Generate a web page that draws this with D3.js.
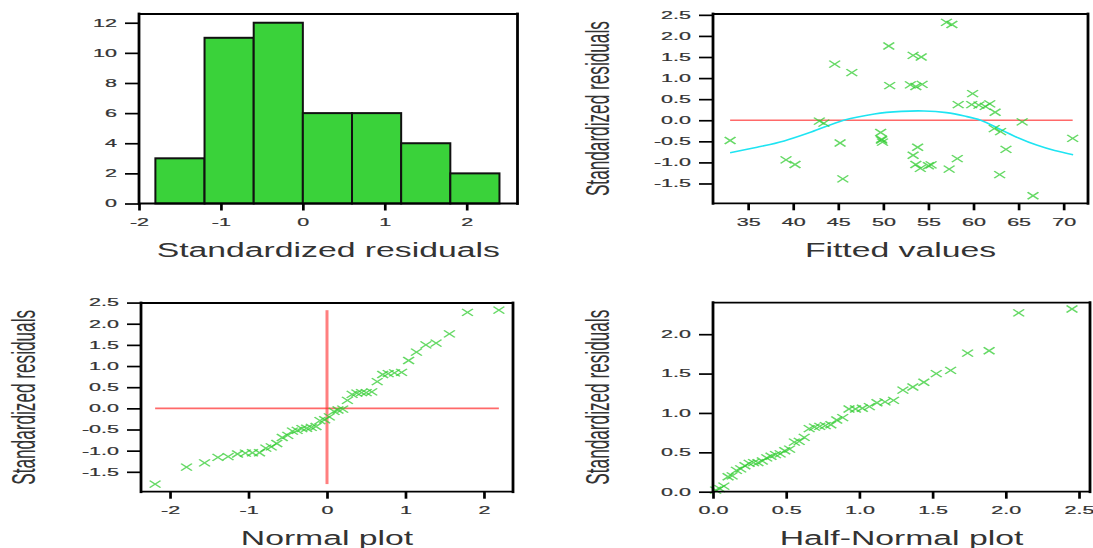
<!DOCTYPE html>
<html>
<head>
<meta charset="utf-8">
<script src="https://cdn.jsdelivr.net/npm/d3@7"></script>
<style>
body { margin: 0; background: #fff; }
svg { display: block; font-family: "Liberation Sans", Arial, sans-serif; }
</style>
</head>
<body>
<svg id="chart" width="1093" height="548"></svg>
<script>
// residuals against fitted values
const fitted = [33.0, 39.2, 40.2, 42.9, 43.4, 44.6, 45.2, 45.5, 46.5, 49.7, 49.8, 49.9, 49.8, 50.6, 50.7,
    53.0, 53.3, 53.3, 53.6, 53.6, 53.8, 54.1, 54.2, 54.3, 55.0, 55.3, 57.0, 57.3, 57.6, 58.2, 58.3,
    59.9, 59.8, 60.6, 61.3, 61.8, 62.3, 62.4, 62.9, 63.0, 63.6, 65.4, 66.6, 71.0];
const residuals = [-0.48, -0.94, -1.05, -0.02, -0.07, 1.33, -0.54, -1.39, 1.13, -0.29, -0.45, -0.52, -0.47, 1.76, 0.82,
    0.84, 1.54, -0.83, 0.80, -1.05, -0.64, -1.14, 1.50, 0.85, -1.08, -1.06, 2.32, -1.16, 2.27, -0.91, 0.37,
    0.63, 0.37, 0.36, 0.33, 0.39, -0.20, 0.19, -1.29, -0.27, -0.69, -0.04, -1.79, -0.43];

// histogram
const binEdges = [-1.8, -1.2, -0.6, 0, 0.6, 1.2, 1.8, 2.4];
const binCounts = [3, 11, 12, 6, 6, 4, 2];

// smoother in the fitted plot
const smoothX = [33, 36, 39, 42, 45.6, 49, 52, 54.5, 57, 59, 60.8, 63, 65, 67, 69, 71.05];
const smoothY = [-0.77, -0.64, -0.49, -0.28, 0.0, 0.15, 0.21, 0.22, 0.18, 0.10, 0.0, -0.22, -0.42, -0.59, -0.72, -0.82];

// plotting positions
const normalQuantiles = [-2.19, -1.79, -1.56, -1.39, -1.26, -1.14, -1.04, -0.95, -0.86, -0.78, -0.71, -0.64, -0.57, -0.50,
    -0.44, -0.38, -0.32, -0.26, -0.20, -0.14, -0.09, -0.03, 0.03, 0.09, 0.14, 0.20, 0.26, 0.32, 0.38, 0.44,
    0.50, 0.57, 0.64, 0.71, 0.78, 0.86, 0.95, 1.04, 1.14, 1.26, 1.39, 1.56, 1.79, 2.19];
const halfNormalQuantiles = [0.018, 0.046, 0.074, 0.103, 0.131, 0.160, 0.189, 0.218, 0.247, 0.277, 0.307, 0.337,
    0.367, 0.396, 0.427, 0.459, 0.490, 0.523, 0.556, 0.589, 0.623, 0.657, 0.693, 0.729, 0.767, 0.805,
    0.845, 0.886, 0.929, 0.973, 1.020, 1.068, 1.120, 1.175, 1.233, 1.297, 1.365, 1.440, 1.525, 1.623,
    1.739, 1.886, 2.088, 2.452];

// tick labels
const histXTicks = [-2, -1, 0, 1, 2];
const histYTicks = [0, 2, 4, 6, 8, 10, 12];
const residTicks = [-1.5, -1.0, -0.5, 0.0, 0.5, 1.0, 1.5, 2.0, 2.5];
const fittedTicks = [35, 40, 45, 50, 55, 60, 65, 70];
const normalTicks = [-2, -1, 0, 1, 2];
const halfXTicks = [0, 0.5, 1.0, 1.5, 2.0, 2.5];
const halfYTicks = [0, 0.5, 1.0, 1.5, 2.0];

const svg = d3.select("#chart");
const INK = "#333";
const TICK_K = 2.05, TITLE_K = 1.73, YT_K = 1.95;
const fmtInt = d => String(d).replace("\u2212", "-");
const fmt1 = d => d3.format(".1f")(d).replace("\u2212", "-");

const sortedRes = d3.sort(residuals);
const sortedAbs = d3.sort(residuals.map(Math.abs));

function makePanel(p) {
    const x = d3.scaleLinear().domain(p.xd).range([p.left, p.right]);
    const y = d3.scaleLinear().domain(p.yd).range([p.bottom, p.top]);
    const g = svg.append("g");
    return { x, y, g, p };
}

function finishPanel(P) {
    const { x, y, g, p } = P;
    // frame: vertical edges look heavier in the reference
    const fr = g.append("g").attr("stroke", "#000").attr("stroke-linecap", "square");
    fr.append("line").attr("x1", p.left).attr("x2", p.right).attr("y1", p.top).attr("y2", p.top).attr("stroke-width", 1.8);
    fr.append("line").attr("x1", p.left).attr("x2", p.right).attr("y1", p.bottom).attr("y2", p.bottom).attr("stroke-width", 1.8);
    fr.append("line").attr("x1", p.left).attr("x2", p.left).attr("y1", p.top).attr("y2", p.bottom).attr("stroke-width", 2.8);
    fr.append("line").attr("x1", p.right).attr("x2", p.right).attr("y1", p.top).attr("y2", p.bottom).attr("stroke-width", 2.8);

    const xa = g.append("g")
        .attr("transform", `translate(0,${p.bottom})`)
        .call(d3.axisBottom(x).tickValues(p.xTicks).tickFormat(p.xFmt).tickSize(7).tickPadding(8).tickSizeOuter(0));
    xa.select(".domain").remove();
    xa.attr("font-size", 10.5).attr("font-family", null);
    xa.selectAll(".tick line").attr("stroke", "#000").attr("stroke-width", 2.7);
    xa.selectAll(".tick text").attr("fill", INK).attr("stroke", INK).attr("stroke-width", 0.2)
        .attr("transform", `scale(${TICK_K},1)`);

    const ya = g.append("g")
        .attr("transform", `translate(${p.left},0)`)
        .call(d3.axisLeft(y).tickValues(p.yTicks).tickFormat(p.yFmt).tickSize(14).tickPadding(8).tickSizeOuter(0));
    ya.select(".domain").remove();
    ya.attr("font-size", 10.5).attr("font-family", null);
    ya.selectAll(".tick line").attr("stroke", "#000").attr("stroke-width", 1.7);
    ya.selectAll(".tick text").attr("fill", INK).attr("stroke", INK).attr("stroke-width", 0.2)
        .attr("x", -22 / TICK_K).attr("transform", `scale(${TICK_K},1)`);

    g.append("text")
        .attr("transform", `translate(${(p.left + p.right) / 2},${p.bottom + 53.5}) scale(${TITLE_K},1)`)
        .attr("text-anchor", "middle").attr("font-size", 19.5).attr("fill", INK)
        .text(p.xTitle);

    if (p.yTitle) {
        g.append("text")
            .attr("transform", `translate(${p.yTitleX},${(p.top + p.bottom) / 2}) scale(${YT_K},1) rotate(-90)`)
            .attr("text-anchor", "middle").attr("font-size", 17.2).attr("fill", INK)
            .text(p.yTitle);
    }
}

const crossSym = {
    draw(ctx, size) {
        const r = Math.sqrt(size) / 2;
        ctx.moveTo(-r, -r); ctx.lineTo(r, r);
        ctx.moveTo(-r, r); ctx.lineTo(r, -r);
    }
};
const crossPath = d3.symbol(crossSym, 49)();

function drawCrosses(P, xs, ys) {
    P.g.append("g").selectAll("path")
        .data(xs.map((v, i) => [v, ys[i]]))
        .join("path")
        .attr("d", crossPath)
        .attr("transform", d => `translate(${P.x(d[0])},${P.y(d[1])}) scale(1.55,1)`)
        .attr("fill", "none")
        .attr("stroke", "#33cc33")
        .attr("stroke-opacity", 0.75)
        .attr("stroke-width", 1.2);
}

// ---- panel 1: histogram
const P1 = makePanel({
    left: 139, right: 517.5, top: 14, bottom: 203.5,
    xd: [-2, 2.62], yd: [0, 12.58],
    xTicks: histXTicks, yTicks: histYTicks, xFmt: fmtInt, yFmt: fmtInt,
    xTitle: "Standardized residuals"
});
P1.g.append("g").selectAll("rect")
    .data(binCounts.map((c, i) => ({ x0: binEdges[i], x1: binEdges[i + 1], c })))
    .join("rect")
    .attr("x", d => P1.x(d.x0))
    .attr("width", d => P1.x(d.x1) - P1.x(d.x0))
    .attr("y", d => P1.y(d.c))
    .attr("height", d => P1.y(0) - P1.y(d.c))
    .attr("fill", "#3ad23a")
    .attr("stroke", "#111")
    .attr("stroke-width", 2);
finishPanel(P1);

// ---- panel 2: residuals vs fitted
const P2 = makePanel({
    left: 713, right: 1088, top: 14, bottom: 203.3,
    xd: [31.1, 72.7], yd: [-1.97, 2.52],
    xTicks: fittedTicks, yTicks: residTicks, xFmt: fmtInt, yFmt: fmt1,
    xTitle: "Fitted values", yTitle: "Standardized residuals", yTitleX: 609
});
const fx = d3.extent(fitted);
P2.g.append("line")
    .attr("x1", P2.x(fx[0])).attr("x2", P2.x(fx[1]))
    .attr("y1", P2.y(0)).attr("y2", P2.y(0))
    .attr("stroke", "#ff2a2a").attr("stroke-opacity", 0.7).attr("stroke-width", 1.6);
P2.g.append("path")
    .datum(smoothX.map((v, i) => [v, smoothY[i]]))
    .attr("d", d3.line().x(d => P2.x(d[0])).y(d => P2.y(d[1])).curve(d3.curveCatmullRom))
    .attr("fill", "none").attr("stroke", "#1ee4f2").attr("stroke-width", 1.6);
drawCrosses(P2, fitted, residuals);
finishPanel(P2);

// ---- panel 3: normal plot
const P3 = makePanel({
    left: 141, right: 513, top: 303, bottom: 491.7,
    xd: [-2.37, 2.37], yd: [-1.97, 2.49],
    xTicks: normalTicks, yTicks: residTicks, xFmt: fmtInt, yFmt: fmt1,
    xTitle: "Normal plot", yTitle: "Standardized residuals", yTitleX: 35
});
const qx = d3.extent(normalQuantiles), rx = d3.extent(residuals);
P3.g.append("line")
    .attr("x1", P3.x(qx[0])).attr("x2", P3.x(qx[1]))
    .attr("y1", P3.y(0)).attr("y2", P3.y(0))
    .attr("stroke", "#ff2a2a").attr("stroke-opacity", 0.7).attr("stroke-width", 1.6);
P3.g.append("line")
    .attr("x1", P3.x(0)).attr("x2", P3.x(0))
    .attr("y1", P3.y(rx[1])).attr("y2", P3.y(rx[0]))
    .attr("stroke", "#ff2a2a").attr("stroke-opacity", 0.6).attr("stroke-width", 3);
drawCrosses(P3, normalQuantiles, sortedRes);
finishPanel(P3);

// ---- panel 4: half-normal plot
const P4 = makePanel({
    left: 713, right: 1090, top: 302.7, bottom: 491.7,
    xd: [0, 2.575], yd: [0, 2.40],
    xTicks: halfXTicks, yTicks: halfYTicks, xFmt: fmt1, yFmt: fmt1,
    xTitle: "Half-Normal plot", yTitle: "Standardized residuals", yTitleX: 609
});
drawCrosses(P4, halfNormalQuantiles, sortedAbs);
finishPanel(P4);
</script>
</body>
</html>
